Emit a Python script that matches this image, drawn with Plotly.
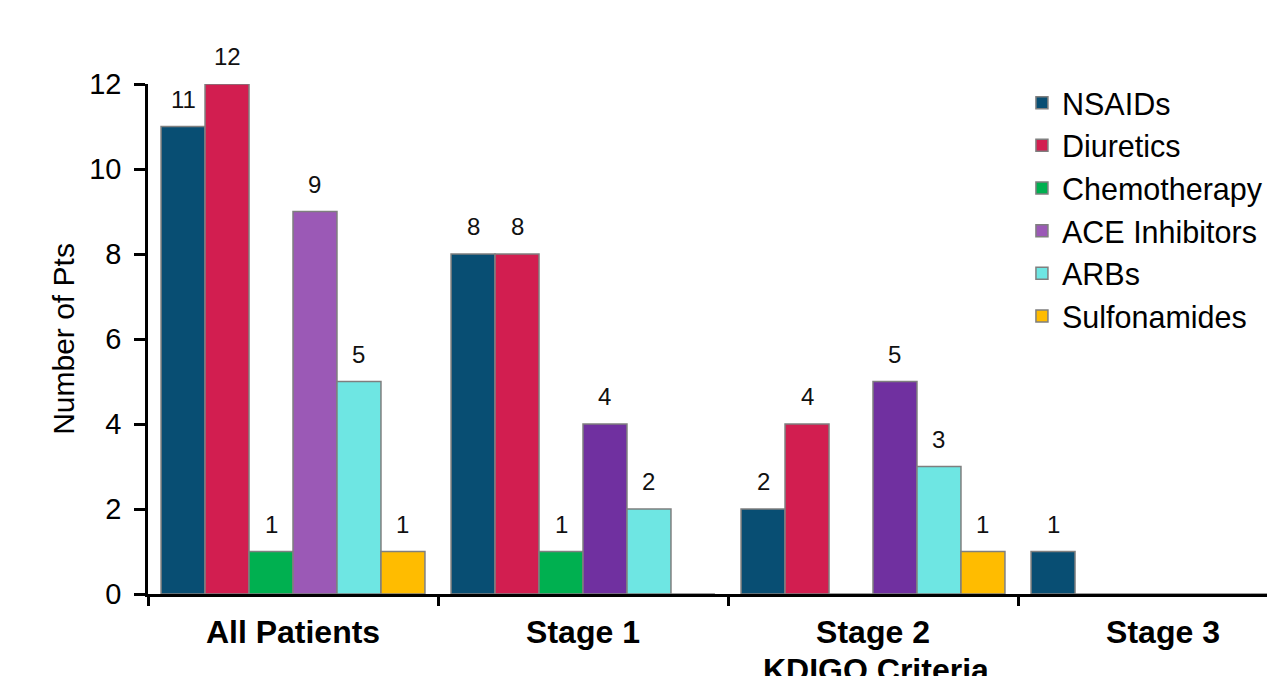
import plotly.graph_objects as go

# Patients with AKI by drug class, grouped by KDIGO stage
categories = ["All Patients", "Stage 1", "Stage 2", "Stage 3"]
series_names = ["NSAIDs", "Diuretics", "Chemotherapy", "ACE Inhibitors", "ARBs", "Sulfonamides"]
nsaids = [11, 8, 2, 1]
diuretics = [12, 8, 4, 0]
chemotherapy = [1, 1, 0, 0]
ace_inhibitors = [9, 4, 5, 0]
arbs = [5, 2, 3, 0]
sulfonamides = [1, 0, 1, 0]
series_values = [nsaids, diuretics, chemotherapy, ace_inhibitors, arbs, sulfonamides]

y_ticks = [0, 2, 4, 6, 8, 10, 12]

colors = ["#084E73", "#D21E50", "#00B050", "#7030A0", "#6EE6E3", "#FFBC00"]
ace_all_patients_color = "#9B59B6"

FONT = "Arial, Liberation Sans, sans-serif"
W, H = 1267, 676
M_L, M_R, M_T, M_B = 148, 0, 84, 82
BARGAP = 0.09
# category span continues past the right edge of the canvas
X_RANGE = [-0.5, -0.5 + 4 * (W - M_L - M_R) / 1160]

fig = go.Figure()
for i, (name, vals) in enumerate(zip(series_names, series_values)):
    cols = [colors[i]] * len(vals)
    if name == "ACE Inhibitors":
        cols[0] = ace_all_patients_color
    fig.add_trace(go.Bar(
        x=categories, y=vals, name=name,
        marker=dict(color=cols, line=dict(color="#7F7F7F", width=1.5)),
        legendgroup=name,
    ))

# value labels above each non-empty bar
unit_px = (W - M_L - M_R) / (X_RANGE[1] - X_RANGE[0])
bar_px = unit_px * (1 - BARGAP) / len(series_names)
annotations = []
for i, vals in enumerate(series_values):
    for cat, v in zip(categories, vals):
        if v > 0:
            annotations.append(dict(
                x=cat, y=v, xref="x", yref="y", text=str(v), showarrow=False,
                xshift=(i - (len(series_names) - 1) / 2) * bar_px,
                yanchor="bottom", yshift=12,
                font=dict(family=FONT, size=24, color="#111111"),
            ))

annotations.append(dict(
    x="Stage 2", y=0, xref="x", yref="paper", text="<b>KDIGO Criteria</b>",
    showarrow=False, yanchor="top", yshift=-56, xshift=3,
    font=dict(family=FONT, size=32, color="#000000"),
))

fig.update_layout(
    width=W, height=H,
    margin=dict(l=M_L, r=M_R, t=M_T, b=M_B, autoexpand=False),
    paper_bgcolor="white", plot_bgcolor="white",
    barmode="group", bargap=BARGAP, bargroupgap=0,
    font=dict(family=FONT, color="#000000"),
    showlegend=True,
    legend=dict(
        x=0.781, y=1.015, xanchor="left", yanchor="top",
        font=dict(family=FONT, size=30.5, color="#000000"),
        traceorder="grouped", tracegroupgap=0,
        bgcolor="rgba(0,0,0,0)",
    ),
    annotations=annotations,
)

fig.update_xaxes(
    type="category", range=X_RANGE,
    showline=True, linecolor="#000000", linewidth=2.5,
    ticks="outside", tickson="boundaries", ticklen=9, tickwidth=2.5, tickcolor="#000000",
    tickfont=dict(family=FONT, size=32, color="#000000", weight="bold"),
    ticklabelstandoff=8,
    showgrid=False, zeroline=False,
)
fig.update_yaxes(
    range=[0, 12], tickvals=y_ticks,
    showline=True, linecolor="#000000", linewidth=2.5,
    ticks="outside", ticklen=11, tickwidth=2.5, tickcolor="#000000",
    tickfont=dict(family=FONT, size=29, color="#000000"),
    ticklabelstandoff=7,
    showgrid=False, zeroline=False,
    title=dict(text="Number of Pts", font=dict(family=FONT, size=30, color="#000000"), standoff=6),
)

fig.write_html("out.html")
